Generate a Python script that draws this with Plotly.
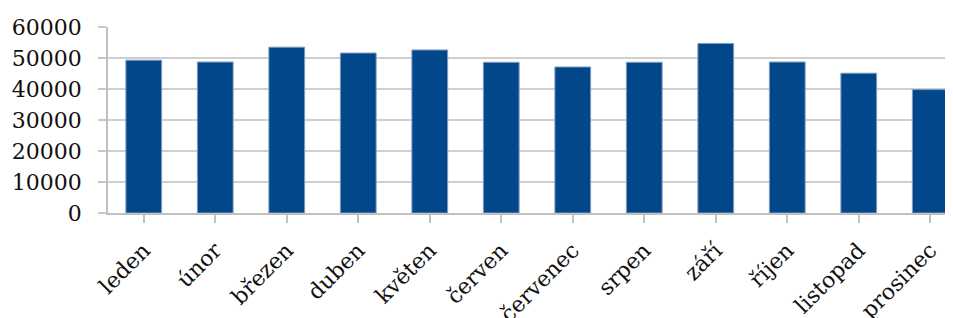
import plotly.graph_objects as go

months = ["leden", "únor", "březen", "duben", "květen", "červen",
          "červenec", "srpen", "září", "říjen", "listopad", "prosinec"]
values = [49300, 48700, 53500, 51600, 52600, 48600,
          47100, 48600, 54700, 48700, 45100, 39800]
y_ticks = [0, 10000, 20000, 30000, 40000, 50000, 60000]

fig = go.Figure(go.Bar(
    x=list(range(len(months))), y=values,
    width=0.5,
    marker=dict(color="#02478A", line=dict(color="#7f9dc2", width=1)),
))

# page body has an 8px default margin, so the figure is sized 945x310
fig.update_layout(
    width=945, height=310,
    margin=dict(l=100, r=0, t=19, b=105),
    paper_bgcolor="white", plot_bgcolor="white",
    font=dict(family="DejaVu Serif, Liberation Serif, serif", size=22, color="#111"),
    showlegend=False,
    bargap=0.5,
)
fig.update_xaxes(
    tickmode="array", tickvals=list(range(len(months))), ticktext=months,
    range=[-0.5, 11.318],
    tickangle=-45, automargin=False, ticklabelstandoff=6,
    ticks="outside", tickson="boundaries", ticklen=8, tickcolor="#c0c0c0", tickwidth=1.5,
    showline=True, linecolor="#c0c0c0", linewidth=1.5,
    showgrid=False, zeroline=False,
)
fig.update_yaxes(
    range=[0, 60000], tickvals=y_ticks, ticktext=[str(v) for v in y_ticks],
    automargin=False,
    ticks="outside", ticklen=8, tickcolor="#c8c8c8", tickwidth=1.5,
    showline=True, linecolor="#c0c0c0", linewidth=1.5,
    showgrid=True, gridcolor="#cfcfcf", gridwidth=1.5,
    zeroline=False, ticklabelstandoff=12,
)

fig.write_html("out.html")
